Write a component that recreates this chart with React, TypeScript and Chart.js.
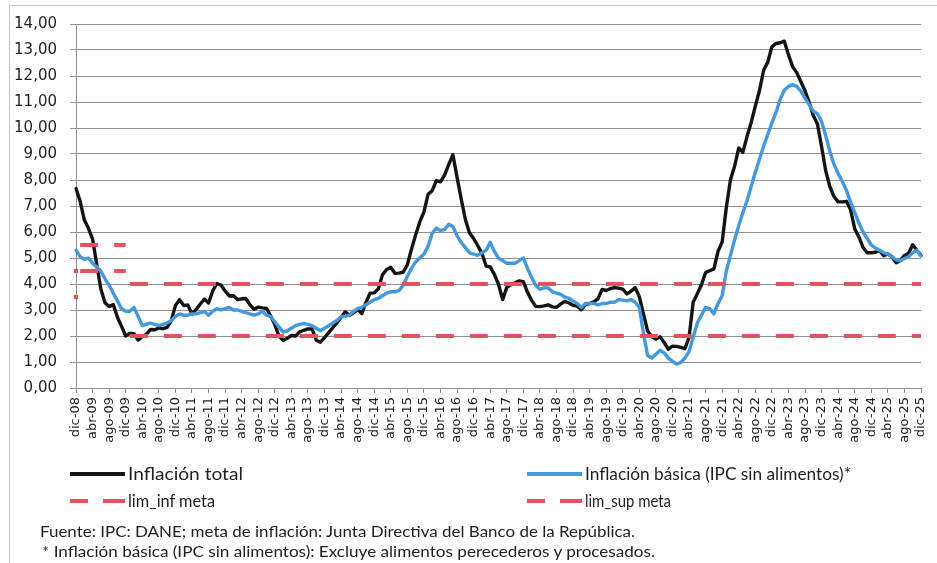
import React, { useEffect, useRef } from 'react';
import { Chart, registerables } from 'chart.js';

Chart.register(...registerables);

// ---- categories (monthly, dic-08 .. dic-25) ----
const MONTH_NAMES = ['ene', 'feb', 'mar', 'abr', 'may', 'jun', 'jul', 'ago', 'sep', 'oct', 'nov', 'dic'];
const FIRST_YEAR = 2008;
const FIRST_MONTH = 11; // dic
const LAST_YEAR = 2025;
const LAST_MONTH = 11; // dic

const categories: string[] = [];
const categoryYears: number[] = [];
for (let y = FIRST_YEAR; y <= LAST_YEAR; y++) {
  for (let m = 0; m < 12; m++) {
    if (y === FIRST_YEAR && m < FIRST_MONTH) continue;
    if (y === LAST_YEAR && m > LAST_MONTH) continue;
    categories.push(`${MONTH_NAMES[m]}-${String(y % 100).padStart(2, '0')}`);
    categoryYears.push(y);
  }
}

// ---- Inflación total (% anual) ----
const totalInflation = [
  7.67, // 2008 dic
  7.18, 6.47, 6.14, 5.73, 4.76, 3.81, 3.28, 3.13, 3.21, 2.72, 2.37, 2.0, // 2009
  2.1, 2.09, 1.84, 1.98, 2.07, 2.25, 2.24, 2.31, 2.28, 2.33, 2.59, 3.17, // 2010
  3.4, 3.17, 3.19, 2.84, 3.02, 3.23, 3.42, 3.27, 3.73, 4.02, 3.96, 3.73, // 2011
  3.54, 3.55, 3.4, 3.43, 3.44, 3.2, 3.03, 3.11, 3.08, 3.06, 2.77, 2.44, // 2012
  2.0, 1.83, 1.91, 2.02, 2.0, 2.16, 2.22, 2.27, 2.27, 1.84, 1.76, 1.94, // 2013
  2.13, 2.32, 2.51, 2.72, 2.93, 2.79, 2.89, 3.02, 2.86, 3.29, 3.65, 3.66, // 2014
  3.82, 4.36, 4.56, 4.64, 4.41, 4.42, 4.46, 4.74, 5.35, 5.89, 6.39, 6.77, // 2015
  7.45, 7.59, 7.98, 7.93, 8.2, 8.6, 8.97, 8.1, 7.27, 6.48, 5.96, 5.75, // 2016
  5.47, 5.18, 4.69, 4.66, 4.37, 3.99, 3.4, 3.87, 3.97, 4.05, 4.12, 4.09, // 2017
  3.68, 3.37, 3.14, 3.13, 3.16, 3.2, 3.12, 3.1, 3.23, 3.33, 3.27, 3.18, // 2018
  3.15, 3.01, 3.21, 3.25, 3.31, 3.43, 3.79, 3.75, 3.82, 3.86, 3.84, 3.8, // 2019
  3.62, 3.72, 3.86, 3.51, 2.85, 2.19, 1.97, 1.88, 1.97, 1.75, 1.49, 1.61, // 2020
  1.6, 1.56, 1.51, 1.95, 3.3, 3.63, 3.97, 4.44, 4.51, 4.58, 5.26, 5.62, // 2021
  6.94, 8.01, 8.53, 9.23, 9.07, 9.67, 10.21, 10.84, 11.44, 12.22, 12.53, 13.12, // 2022
  13.25, 13.28, 13.34, 12.82, 12.36, 12.13, 11.78, 11.43, 10.99, 10.48, 10.15, 9.28, // 2023
  8.35, 7.74, 7.36, 7.16, 7.16, 7.18, 6.86, 6.12, 5.81, 5.41, 5.2, 5.2, // 2024
  5.22, 5.28, 5.09, 5.16, 5.05, 4.82, 4.9, 5.1, 5.18, 5.51, 5.3, 5.1, // 2025
];

// ---- Inflación básica (IPC sin alimentos) ----
const coreInflation = [
  5.3, // 2008 dic
  5.05, 4.95, 5.0, 4.8, 4.65, 4.5, 4.2, 3.95, 3.65, 3.35, 3.05, 2.95, // 2009
  2.95, 3.1, 2.75, 2.4, 2.45, 2.5, 2.45, 2.4, 2.45, 2.5, 2.6, 2.75, // 2010
  2.85, 2.8, 2.8, 2.85, 2.85, 2.9, 2.95, 2.8, 2.95, 3.05, 3.0, 3.05, // 2011
  3.1, 3.0, 3.0, 2.95, 2.9, 2.85, 2.8, 2.85, 2.95, 2.8, 2.75, 2.55, // 2012
  2.35, 2.15, 2.2, 2.3, 2.4, 2.45, 2.48, 2.45, 2.4, 2.3, 2.2, 2.3, // 2013
  2.4, 2.5, 2.6, 2.75, 2.75, 2.8, 2.95, 3.05, 3.1, 3.2, 3.3, 3.4, // 2014
  3.45, 3.55, 3.65, 3.7, 3.7, 3.75, 3.95, 4.3, 4.6, 4.85, 5.0, 5.15, // 2015
  5.45, 5.95, 6.15, 6.05, 6.1, 6.3, 6.2, 5.85, 5.6, 5.4, 5.2, 5.15, // 2016
  5.1, 5.2, 5.3, 5.6, 5.25, 5.0, 4.9, 4.8, 4.8, 4.8, 4.9, 5.0, // 2017
  4.6, 4.25, 3.95, 3.8, 3.85, 3.85, 3.7, 3.65, 3.6, 3.5, 3.45, 3.35, // 2018
  3.25, 3.1, 3.25, 3.25, 3.25, 3.2, 3.25, 3.25, 3.3, 3.3, 3.4, 3.38, // 2019
  3.35, 3.4, 3.3, 3.1, 2.1, 1.25, 1.15, 1.3, 1.45, 1.35, 1.15, 1.03, // 2020
  0.92, 0.98, 1.15, 1.4, 1.95, 2.5, 2.8, 3.1, 3.05, 2.85, 3.25, 3.55, // 2021
  4.5, 5.1, 5.7, 6.25, 6.75, 7.2, 7.75, 8.3, 8.8, 9.3, 9.75, 10.2, // 2022
  10.6, 11.1, 11.45, 11.6, 11.67, 11.6, 11.42, 11.15, 10.9, 10.65, 10.55, 10.25, // 2023
  9.7, 9.1, 8.6, 8.25, 7.95, 7.6, 7.15, 6.75, 6.35, 6.0, 5.75, 5.5, // 2024
  5.38, 5.3, 5.2, 5.15, 5.05, 4.93, 4.9, 4.98, 5.05, 5.2, 5.3, 5.08, // 2025
];

// ---- Meta de inflación (rango) por año de inicio de vigencia ----
const TARGET_FROM_YEAR = [2008, 2009, 2010];
const TARGET_LOW = [3.5, 4.5, 2.0];
const TARGET_HIGH = [4.5, 5.5, 4.0];

const targetIndex = (year: number) => {
  let idx = 0;
  for (let t = 0; t < TARGET_FROM_YEAR.length; t++) if (year >= TARGET_FROM_YEAR[t]) idx = t;
  return idx;
};
const limInf = categoryYears.map((y) => TARGET_LOW[targetIndex(y)]);
const limSup = categoryYears.map((y) => TARGET_HIGH[targetIndex(y)]);

const Y_TICK_LABELS_DECIMALS = 2;

// ---- styles ----
const W = 937;
const H = 563;
const GRID = '#8f8f8f';
const BLACK = '#141414';
const BLUE = '#4499de';
const RED = '#e2535d';
const TEXT = '#1e1e1e';

export default function App() {
  const canvasRef = useRef<HTMLCanvasElement>(null);

  useEffect(() => {
    const canvas = canvasRef.current;
    if (!canvas) return;
    const sameLevel = (color: string) => (ctx: any) =>
      ctx.p0.parsed.y === ctx.p1.parsed.y ? color : 'rgba(0,0,0,0)';
    const firstPoint = (ctx: any) => (ctx.dataIndex === 0 ? 3 : 0);

    const chart = new Chart(canvas, {
      type: 'line',
      data: {
        labels: categories,
        datasets: [
          {
            label: 'lim_inf meta',
            data: limInf,
            borderColor: RED,
            backgroundColor: RED,
            borderWidth: 4,
            borderDash: [18, 16],
            borderCapStyle: 'butt',
            pointRadius: firstPoint,
            pointStyle: 'rect',
            pointBorderWidth: 0,
            pointBackgroundColor: RED,
            segment: { borderColor: sameLevel(RED) },
            order: 0,
          },
          {
            label: 'lim_sup meta',
            data: limSup,
            borderColor: RED,
            backgroundColor: RED,
            borderWidth: 4,
            borderDash: [18, 16],
            borderCapStyle: 'butt',
            pointRadius: firstPoint,
            pointStyle: 'rect',
            pointBorderWidth: 0,
            pointBackgroundColor: RED,
            segment: { borderColor: sameLevel(RED) },
            order: 1,
          },
          {
            label: 'Inflación básica (IPC sin alimentos)*',
            data: coreInflation,
            borderColor: BLUE,
            backgroundColor: BLUE,
            borderWidth: 3.4,
            borderJoinStyle: 'round',
            borderCapStyle: 'round',
            pointRadius: 0,
            order: 2,
          },
          {
            label: 'Inflación total',
            data: totalInflation,
            borderColor: BLACK,
            backgroundColor: BLACK,
            borderWidth: 3.4,
            borderJoinStyle: 'round',
            borderCapStyle: 'round',
            pointRadius: 0,
            order: 3,
          },
        ],
      },
      options: {
        animation: false,
        responsive: false,
        devicePixelRatio: 1,
        events: [],
        layout: { padding: { left: 6, right: 16, top: 24, bottom: 0 } },
        elements: { line: { tension: 0 } },
        plugins: {
          legend: { display: false },
          tooltip: { enabled: false },
          title: { display: false },
        },
        scales: {
          x: {
            type: 'category',
            offset: false,
            afterFit: (scale: any) => {
              scale.height = H - 388;
              scale.paddingLeft = 0;
              scale.paddingRight = 0;
            },
            grid: {
              offset: false,
              drawOnChartArea: false,
              drawTicks: true,
              tickLength: 5,
              color: GRID,
              lineWidth: 1,
            },
            border: { color: GRID, width: 1 },
            ticks: {
              autoSkip: false,
              maxRotation: 90,
              minRotation: 90,
              padding: 4,
              color: TEXT,
              font: { family: 'DejaVu Sans', size: 13 },
              callback: (_v: any, i: number) => (i % 4 === 0 ? categories[i] : null),
            },
          },
          y: {
            min: 0,
            max: 14,
            afterFit: (scale: any) => {
              scale.width = 70;
            },
            grid: { color: GRID, lineWidth: 1, drawTicks: true, tickLength: 6 },
            border: { color: GRID, width: 1 },
            ticks: {
              stepSize: 1,
              padding: 13,
              color: TEXT,
              font: { family: 'DejaVu Sans', size: 15 },
              callback: (v: any) => Number(v).toFixed(Y_TICK_LABELS_DECIMALS).replace('.', ','),
            },
          },
        },
      } as any,
    });
    return () => chart.destroy();
  }, []);

  const legendFont = { fontFamily: 'Lato, "DejaVu Sans"', fontSize: 17, fill: TEXT } as const;
  const noteFont = { fontFamily: 'Lato, "DejaVu Sans"', fontSize: 15, fill: TEXT } as const;

  return (
    <div
      style={{
        position: 'absolute',
        left: 0,
        top: 0,
        width: W,
        height: H,
        background: '#ffffff',
        overflow: 'hidden',
      }}
    >
      <canvas
        ref={canvasRef}
        width={W}
        height={H}
        style={{ position: 'absolute', left: 0, top: 0, width: W, height: H }}
      />
      <svg
        width={W}
        height={H}
        style={{ position: 'absolute', left: 0, top: 0, pointerEvents: 'none' }}
      >
        <path d={`M9.5 ${H} V5.5 H${W}`} fill="none" stroke="#c6c6c6" strokeWidth={1} />

        {/* legend row 1 */}
        <line x1={70} y1={474} x2={125} y2={474} stroke={BLACK} strokeWidth={4} />
        <text x={128} y={480} textLength={115} lengthAdjust="spacingAndGlyphs" {...legendFont}>
          Inflación total
        </text>
        <line x1={527} y1={474} x2={582} y2={474} stroke={BLUE} strokeWidth={4} />
        <text x={585} y={480} textLength={266} lengthAdjust="spacingAndGlyphs" {...legendFont}>
          Inflación básica (IPC sin alimentos)*
        </text>

        {/* legend row 2 */}
        <line x1={70} y1={501} x2={88} y2={501} stroke={RED} strokeWidth={4} />
        <line x1={103} y1={501} x2={125} y2={501} stroke={RED} strokeWidth={4} />
        <text x={128} y={507} textLength={87} lengthAdjust="spacingAndGlyphs" {...legendFont}>
          lim_inf meta
        </text>
        <line x1={527} y1={501} x2={545} y2={501} stroke={RED} strokeWidth={4} />
        <line x1={560} y1={501} x2={582} y2={501} stroke={RED} strokeWidth={4} />
        <text x={585} y={507} textLength={86} lengthAdjust="spacingAndGlyphs" {...legendFont}>
          lim_sup meta
        </text>

        {/* notes */}
        <text x={40} y={537} textLength={595} lengthAdjust="spacingAndGlyphs" {...noteFont}>
          Fuente: IPC: DANE; meta de inflación: Junta Directiva del Banco de la República.
        </text>
        <text x={42} y={557} textLength={613} lengthAdjust="spacingAndGlyphs" {...noteFont}>
          * Inflación básica (IPC sin alimentos): Excluye alimentos perecederos y procesados.
        </text>
      </svg>
    </div>
  );
}
